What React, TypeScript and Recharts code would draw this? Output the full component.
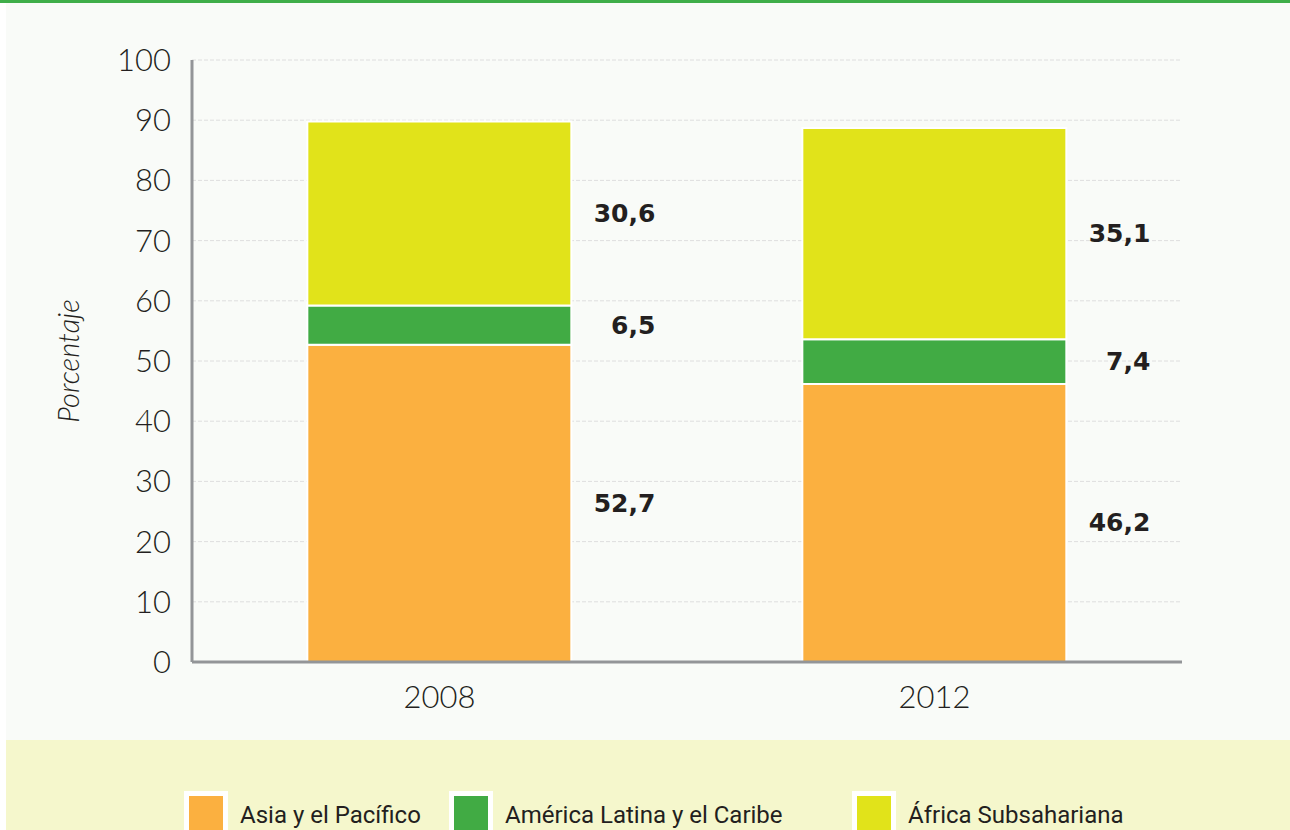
import React from 'react'
import { BarChart, Bar, XAxis, YAxis, CartesianGrid, LabelList, Legend } from 'recharts'

const years = ['2008', '2012']
const asiaPacifico = [52.7, 46.2]
const americaLatina = [6.5, 7.4]
const africaSub = [30.6, 35.1]
const yTicks = [0, 10, 20, 30, 40, 50, 60, 70, 80, 90, 100]

const series = [
  { key: 'asia', name: 'Asia y el Pacífico', color: '#fbb040' },
  { key: 'latam', name: 'América Latina y el Caribe', color: '#41ab44' },
  { key: 'africa', name: 'África Subsahariana', color: '#e1e31a' }
]

const data = years.map((year, i) => ({
  year,
  asia: asiaPacifico[i],
  latam: americaLatina[i],
  africa: africaSub[i]
}))

const tickFont = { fontFamily: 'Lato, Open Sans, sans-serif', fontWeight: 300, fontSize: 31, fill: '#231f20' }

function SegmentLabel(props: any) {
  const { x, y, width, height, value } = props
  return (
    <text
      x={x + width + 84}
      y={y + height / 2}
      textAnchor="end"
      dominantBaseline="central"
      fontFamily="DejaVu Sans, sans-serif"
      fontWeight={700}
      fontSize={25}
      fill="#231f20"
    >
      {String(value).replace('.', ',')}
    </text>
  )
}

const legendX = [184, 449, 852]

function LegendBox() {
  return (
    <div style={{ position: 'relative', width: 1290, height: 90 }}>
      {series.map((s, i) => (
        <div key={s.key} style={{ position: 'absolute', left: legendX[i], top: 51, display: 'flex' }}>
          <div style={{ width: 44, height: 48, background: s.color, border: '5px solid #fff', boxSizing: 'border-box' }} />
          <span
            style={{
              marginLeft: 12,
              marginTop: 10,
              fontFamily: 'Liberation Sans Narrow, Roboto, sans-serif',
              fontSize: 24,
              color: '#231f20',
              lineHeight: '28px'
            }}
          >
            {s.name}
          </span>
        </div>
      ))}
    </div>
  )
}

export default function App() {
  return (
    <div style={{ position: 'absolute', left: 0, top: 0, width: 1290, height: 830, overflow: 'hidden', background: '#fff' }}>
      <div style={{ position: 'absolute', left: 0, top: 0, width: 1290, height: 3, background: '#3fae49' }} />
      <div style={{ position: 'absolute', left: 6, top: 3, width: 1284, height: 737, background: '#f9fbf8' }} />
      <div style={{ position: 'absolute', left: 6, top: 740, width: 1284, height: 90, background: '#f5f7cc' }} />
      <div style={{ position: 'absolute', left: 0, top: 0 }}>
        <BarChart
          width={1290}
          height={830}
          data={data}
          margin={{ top: 60, right: 108, bottom: 0, left: 0 }}
          barCategoryGap="23.3%"
        >
          <CartesianGrid vertical={false} stroke="#dedede" strokeDasharray="4 2" />
          <XAxis
            dataKey="year"
            height={78}
            axisLine={{ stroke: '#939598', strokeWidth: 3 }}
            tickLine={false}
            tickSize={0}
            tickMargin={24}
            tick={tickFont}
          />
          <YAxis
            domain={[0, 100]}
            ticks={yTicks}
            width={192}
            interval={0}
            axisLine={{ stroke: '#939598', strokeWidth: 3 }}
            tickLine={false}
            tickSize={0}
            tickMargin={21}
            tick={tickFont}
            label={{
              value: 'Porcentaje',
              angle: -90,
              position: 'insideLeft',
              offset: 69,
              style: { fontFamily: 'Lato, Open Sans, sans-serif', fontWeight: 300, fontStyle: 'italic', fontSize: 29, fill: '#231f20', textAnchor: 'middle' }
            }}
          />
          <Legend verticalAlign="bottom" height={90} content={() => <LegendBox />} wrapperStyle={{ left: 0, bottom: 0, width: 1290 }} />
          {series.map(s => (
            <Bar key={s.key} dataKey={s.key} name={s.name} stackId="a" fill={s.color} stroke="#ffffff" strokeWidth={2} isAnimationActive={false}>
              <LabelList dataKey={s.key} content={SegmentLabel} />
            </Bar>
          ))}
        </BarChart>
      </div>
    </div>
  )
}
